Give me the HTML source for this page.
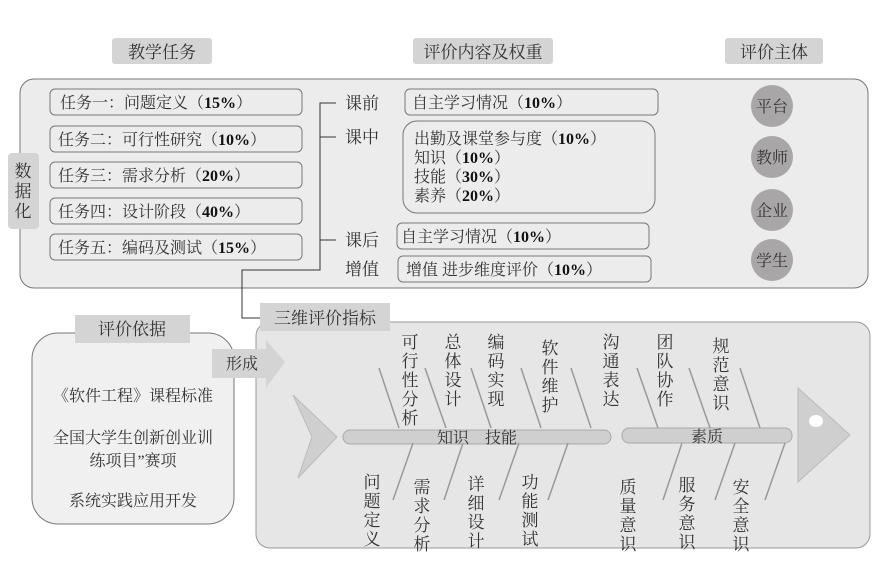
<!DOCTYPE html>
<html><head><meta charset="utf-8"><style>
html,body{margin:0;padding:0;background:#fff;}
svg{display:block;}
text{font-family:"Liberation Serif","Noto Serif CJK SC",serif;fill:#333;}
.b{font-weight:bold;fill:#111;}
</style></head><body>
<svg width="878" height="581" viewBox="0 0 878 581" xmlns="http://www.w3.org/2000/svg">
<!-- header labels -->
<rect x="112" y="38" width="100" height="26" rx="3" fill="#d4d4d4"/>
<text x="162" y="58" font-size="17" text-anchor="middle">教学任务</text>
<rect x="413" y="38" width="140" height="26" rx="3" fill="#d4d4d4"/>
<text x="483" y="58" font-size="17" text-anchor="middle">评价内容及权重</text>
<rect x="725" y="38" width="98" height="26" rx="3" fill="#d4d4d4"/>
<text x="774" y="58" font-size="17" text-anchor="middle">评价主体</text>

<!-- main panel -->
<rect x="20" y="79" width="848" height="209" rx="14" fill="#ececec" stroke="#777" stroke-width="1"/>
<rect x="8" y="153" width="31" height="76" rx="4" fill="#d4d4d4"/>
<g font-size="17"><text x="23" y="177" text-anchor="middle">数</text><text x="23" y="197" text-anchor="middle">据</text><text x="23" y="217" text-anchor="middle">化</text></g>

<g fill="none" stroke="#777" stroke-width="1">
<rect x="50" y="89" width="252" height="26" rx="5"/>
<rect x="50" y="126" width="252" height="26" rx="5"/>
<rect x="50" y="162" width="252" height="26" rx="5"/>
<rect x="50" y="198" width="252" height="26" rx="5"/>
<rect x="50" y="234" width="252" height="26" rx="5"/>
</g>
<g font-size="16">
<text x="60" y="108">任务一：问题定义（<tspan class="b">15%</tspan>）</text>
<text x="58" y="145">任务二：可行性研究（<tspan class="b">10%</tspan>）</text>
<text x="58" y="181">任务三：需求分析（<tspan class="b">20%</tspan>）</text>
<text x="58" y="217">任务四：设计阶段（<tspan class="b">40%</tspan>）</text>
<text x="58" y="253">任务五：编码及测试（<tspan class="b">15%</tspan>）</text>
</g>

<!-- bracket -->
<g fill="none" stroke="#333" stroke-width="1">
<polyline points="336,103 320,103 320,270 242,270 242,318 262,318"/>
<line x1="320" y1="137" x2="336" y2="137"/>
<line x1="320" y1="240" x2="336" y2="240"/>
</g>
<g font-size="17">
<text x="345" y="109">课前</text>
<text x="345" y="143">课中</text>
<text x="345" y="246">课后</text>
<text x="345" y="275">增值</text>
</g>
<g fill="none" stroke="#777" stroke-width="1">
<rect x="405" y="89" width="253" height="26" rx="5"/>
<rect x="403" y="121" width="252" height="92" rx="14"/>
<rect x="397" y="223" width="252" height="26" rx="5"/>
<rect x="398" y="256" width="253" height="26" rx="5"/>
</g>
<g font-size="16">
<text x="412" y="108">自主学习情况（<tspan class="b">10%</tspan>）</text>
<text x="414" y="144">出勤及课堂参与度（<tspan class="b">10%</tspan>）</text>
<text x="414" y="163">知识（<tspan class="b">10%</tspan>）</text>
<text x="414" y="182">技能（<tspan class="b">30%</tspan>）</text>
<text x="414" y="201">素养（<tspan class="b">20%</tspan>）</text>
<text x="401" y="242">自主学习情况（<tspan class="b">10%</tspan>）</text>
<text x="406" y="275">增值 进步维度评价（<tspan class="b">10%</tspan>）</text>
</g>
<g fill="#a8a6a6">
<circle cx="772" cy="106" r="21"/><circle cx="772" cy="157" r="21"/>
<circle cx="772" cy="210" r="21"/><circle cx="772" cy="260" r="21"/>
</g>
<g font-size="16" text-anchor="middle">
<text x="772" y="112">平台</text><text x="772" y="163">教师</text>
<text x="772" y="216">企业</text><text x="772" y="266">学生</text>
</g>

<!-- left bottom -->
<rect x="32" y="333" width="202" height="191" rx="26" fill="#f0f0f0" stroke="#777"/>
<rect x="75" y="315" width="115" height="28" fill="#d4d4d4"/>
<text x="132" y="335" font-size="17" text-anchor="middle">评价依据</text>
<g font-size="16" text-anchor="middle">
<text x="133" y="401">《软件工程》课程标准</text>
<text x="133" y="443">全国大学生创新创业训</text>
<text x="133" y="466">练项目”赛项</text>
<text x="133" y="506">系统实践应用开发</text>
</g>

<!-- bottom panel -->
<rect x="256" y="322" width="614" height="226" rx="14" fill="#e6e6e6" stroke="#999"/>
<rect x="260" y="303" width="130" height="28" fill="#d4d4d4"/>
<text x="325" y="324" font-size="17" text-anchor="middle">三维评价指标</text>
<polygon points="212,349 266,349 266,340 285,362 266,388 266,378 212,378" fill="#d4d4d4"/>
<text x="226" y="369" font-size="16">形成</text>

<polygon points="293,395 337,437 298,478 312,437" fill="#cfcfcf" stroke="#bbb"/>
<rect x="343" y="430" width="268" height="14" rx="7" fill="#cfcfcf" stroke="#aaa"/>
<rect x="622" y="428" width="170" height="15" rx="7" fill="#cfcfcf" stroke="#aaa"/>
<polygon points="798,388 850,435 798,482" fill="#cfcfcf" stroke="#bbb"/>
<ellipse cx="816" cy="421" rx="7" ry="6" fill="#fff"/>
<text x="477" y="443" font-size="16" text-anchor="middle">知识　技能</text>
<text x="707" y="442" font-size="16" text-anchor="middle">素质</text>

<g stroke="#999" stroke-width="1.5">
<line x1="379" y1="368" x2="399" y2="428"/>
<line x1="425" y1="368" x2="446" y2="428"/>
<line x1="471" y1="368" x2="491" y2="428"/>
<line x1="521" y1="368" x2="541" y2="428"/>
<line x1="571" y1="368" x2="591" y2="428"/>
<line x1="637" y1="368" x2="658" y2="428"/>
<line x1="689" y1="368" x2="710" y2="428"/>
<line x1="740" y1="368" x2="760" y2="428"/>
<line x1="413" y1="443" x2="393" y2="500"/>
<line x1="463" y1="443" x2="444" y2="500"/>
<line x1="519" y1="443" x2="499" y2="500"/>
<line x1="568" y1="443" x2="548" y2="500"/>
<line x1="682" y1="443" x2="663" y2="500"/>
<line x1="735" y1="443" x2="715" y2="500"/>
<line x1="785" y1="443" x2="765" y2="500"/>
</g>
<g font-size="17" text-anchor="middle">
<text x="410" y="348">可</text><text x="410" y="367">行</text><text x="410" y="386">性</text><text x="410" y="405">分</text><text x="410" y="424">析</text>
<text x="453" y="348">总</text><text x="453" y="367">体</text><text x="453" y="386">设</text><text x="453" y="405">计</text>
<text x="496" y="348">编</text><text x="496" y="367">码</text><text x="496" y="386">实</text><text x="496" y="405">现</text>
<text x="550" y="354">软</text><text x="550" y="373">件</text><text x="550" y="392">维</text><text x="550" y="411">护</text>
<text x="611" y="348">沟</text><text x="611" y="367">通</text><text x="611" y="386">表</text><text x="611" y="405">达</text>
<text x="665" y="348">团</text><text x="665" y="367">队</text><text x="665" y="386">协</text><text x="665" y="405">作</text>
<text x="721" y="352">规</text><text x="721" y="371">范</text><text x="721" y="390">意</text><text x="721" y="409">识</text>
<text x="372" y="488">问</text><text x="372" y="507">题</text><text x="372" y="526">定</text><text x="372" y="545">义</text>
<text x="422" y="493">需</text><text x="422" y="512">求</text><text x="422" y="531">分</text><text x="422" y="550">析</text>
<text x="476" y="490">详</text><text x="476" y="509">细</text><text x="476" y="528">设</text><text x="476" y="547">计</text>
<text x="530" y="488">功</text><text x="530" y="507">能</text><text x="530" y="526">测</text><text x="530" y="545">试</text>
<text x="628" y="493">质</text><text x="628" y="512">量</text><text x="628" y="531">意</text><text x="628" y="550">识</text>
<text x="687" y="491">服</text><text x="687" y="510">务</text><text x="687" y="529">意</text><text x="687" y="548">识</text>
<text x="741" y="493">安</text><text x="741" y="512">全</text><text x="741" y="531">意</text><text x="741" y="550">识</text>
</g>
</svg>
</body></html>
